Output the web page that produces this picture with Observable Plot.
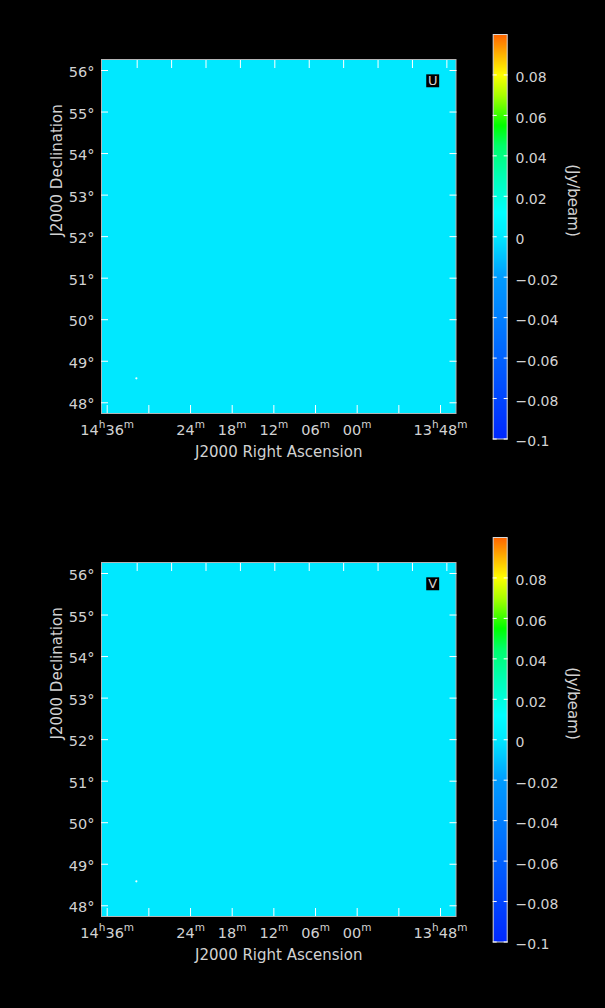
<!DOCTYPE html>
<html><head><meta charset="utf-8">
<script src="https://cdn.jsdelivr.net/npm/d3@7"></script>
<script src="https://cdn.jsdelivr.net/npm/@observablehq/plot@0.6"></script>
<style>
html,body{margin:0;padding:0;background:#000;}
#root{width:605px;height:1008px;background:#000;position:relative;overflow:hidden;}
.panel{position:relative;width:605px;}
.panel svg{position:absolute;left:0;top:0;}
</style></head><body><div id="root"></div>
<script>
// ---- data ----
const stokes = ["U", "V"];
const imageU = [0];            // Jy/beam (residual image, essentially zero)
const imageV = [0];
const spotRA = [871.8];        // RA in minutes of time
const spotDec = [48.59];       // Dec in degrees
const raTicks = [876, 870, 864, 858, 852, 846, 840, 834, 828];
const raTopTicks = [876, 870, 864, 858, 852, 846, 840, 834, 828, 822];
const raLabelValues = [876, 864, 858, 852, 846, 840, 828];
const raLabels = ["14ʰ36ᵐ", "24ᵐ", "18ᵐ", "12ᵐ", "06ᵐ", "00ᵐ", "13ʰ48ᵐ"];
const decTicks = [48, 49, 50, 51, 52, 53, 54, 55, 56];
const decLabels = ["48°", "49°", "50°", "51°", "52°", "53°", "54°", "55°", "56°"];
const cbTicks = [-0.1, -0.08, -0.06, -0.04, -0.02, 0, 0.02, 0.04, 0.06, 0.08];
const cbLabels = ["−0.1", "−0.08", "−0.06", "−0.04", "−0.02", "0", "0.02", "0.04", "0.06", "0.08"];
const raDomain = [876.82, 825.77];
const decDomain = [47.742, 56.265];
const cbDomain = [-0.1, 0.1];
const raCenter = 851.2;
const cmapStops  = [-0.1, -0.06, -0.02, 0, 0.012, 0.03, 0.045, 0.055, 0.07, 0.08, 0.09, 0.1];
const cmapColors = ["#0028ff", "#0062ff", "#009cff", "#00e8ff", "#00ffff", "#00ffb4", "#00ff6a", "#00ff00", "#aaff00", "#ffff00", "#ffb400", "#ff6400"];

// ---- helpers ----
const txt = "#d2d2d2";
const font = "'DejaVu Sans', sans-serif";
const colorScale = {type: "linear", domain: cmapStops, range: cmapColors, interpolate: "rgb"};
const ratio = Math.cos(decDomain[1] * Math.PI / 180) / Math.cos(decDomain[0] * Math.PI / 180);
const topTickPos = raTopTicks.map(r => raCenter + (r - raCenter) * ratio);
const look = (vals, labs) => d => labs[vals.findIndex(v => Math.abs(v - d) < 1e-9)];
const blank = () => "";
const NS = "http://www.w3.org/2000/svg";

function superscripts(svg) {
  svg.querySelectorAll("text").forEach(t => {
    const s = t.textContent;
    if (!/[ʰᵐ]/.test(s)) return;
    t.textContent = "";
    let up = false;
    for (const part of s.match(/[ʰᵐ]|[^ʰᵐ]+/g)) {
      const ts = document.createElementNS(NS, "tspan");
      if (part === "ʰ" || part === "ᵐ") {
        ts.textContent = part === "ʰ" ? "h" : "m";
        ts.setAttribute("font-size", "10.5");
        if (!up) { ts.setAttribute("dy", "-7"); up = true; }
      } else {
        ts.textContent = part;
        if (up) { ts.setAttribute("dy", "7"); up = false; }
      }
      t.appendChild(ts);
    }
  });
}

function panel(label, image, h) {
  const div = document.createElement("div");
  div.className = "panel";
  div.style.height = h + "px";
  const main = Plot.plot({
    width: 605, height: h,
    marginLeft: 101, marginRight: 149.5, marginTop: 59, marginBottom: h - 413,
    style: {background: "transparent", color: txt, fontFamily: font, fontSize: "14px"},
    x: {domain: raDomain, axis: null},
    y: {domain: decDomain, axis: null},
    color: colorScale,
    marks: [
      Plot.raster(image, {width: 1, height: 1, fill: d => d, x1: raDomain[0], x2: raDomain[1], y1: decDomain[0], y2: decDomain[1]}),
      Plot.dot(spotRA.map((r, i) => ({ra: r, dec: spotDec[i]})), {x: "ra", y: "dec", r: 1.1, fill: "#e6ffff"}),
      Plot.frame({stroke: "#b4b4b4"}),
      Plot.axisX(raTicks, {anchor: "bottom", tickSize: -8, tickFormat: blank, stroke: "white", label: null}),
      Plot.axisX(topTickPos, {anchor: "top", tickSize: -8, tickFormat: blank, stroke: "white", label: null}),
      Plot.axisY(decTicks, {anchor: "left", tickSize: -7, tickFormat: blank, stroke: "white", label: null}),
      Plot.axisY(decTicks, {anchor: "right", tickSize: -7, tickFormat: blank, stroke: "white", label: null}),
      Plot.axisY(decTicks, {anchor: "left", tickSize: 0, tickPadding: 7, tickFormat: look(decTicks, decLabels), dy: 2, fill: txt, fontSize: 14.5, label: null}),
      Plot.axisX(raLabelValues, {anchor: "bottom", tickSize: 0, tickPadding: 11, tickFormat: look(raLabelValues, raLabels), fill: txt, fontSize: 14.5, label: null}),
      Plot.text(["J2000 Right Ascension"], {frameAnchor: "bottom", dy: 43, fill: txt, fontSize: 15}),
      Plot.text(["J2000 Declination"], {frameAnchor: "left", dx: -44, rotate: -90, fill: txt, fontSize: 15}),
      Plot.dot([label], {frameAnchor: "top-right", dx: -23.3, dy: 21.3, symbol: "square", r: 7.3, fill: "black"}),
      Plot.text([label], {frameAnchor: "top-right", dx: -23.3, dy: 21.3, textAnchor: "middle", lineAnchor: "middle", fill: txt, fontSize: 13})
    ]
  });
  superscripts(main);
  const cbar = Plot.plot({
    width: 605, height: h,
    marginLeft: 492.7, marginRight: 98.3, marginTop: 34, marginBottom: h - 438.5,
    style: {background: "transparent", color: txt, fontFamily: font, fontSize: "14px"},
    x: {domain: [0, 1], axis: null},
    y: {domain: cbDomain, axis: null},
    color: colorScale,
    marks: [
      Plot.raster({fill: (x, y) => y, x1: 0, x2: 1, y1: cbDomain[0], y2: cbDomain[1]}),
      Plot.frame({stroke: "#d8d8d8"}),
      Plot.axisY(cbTicks, {anchor: "left", tickSize: -4, tickFormat: blank, stroke: "white", label: null}),
      Plot.axisY(cbTicks, {anchor: "right", tickSize: -4, tickFormat: blank, stroke: "white", label: null}),
      Plot.axisY(cbTicks, {anchor: "right", tickSize: 0, tickPadding: 8.3, textAnchor: "start", dy: 3, tickFormat: look(cbTicks, cbLabels), fill: txt, fontSize: 14, label: null}),
      Plot.text(["(Jy/beam)"], {frameAnchor: "right", dx: 65.3, rotate: 90, fill: txt, fontSize: 15})
    ]
  });
  div.appendChild(main);
  div.appendChild(cbar);
  return div;
}

const root = document.getElementById("root");
root.appendChild(panel(stokes[0], imageU, 503));
root.appendChild(panel(stokes[1], imageV, 505));
</script></body></html>
